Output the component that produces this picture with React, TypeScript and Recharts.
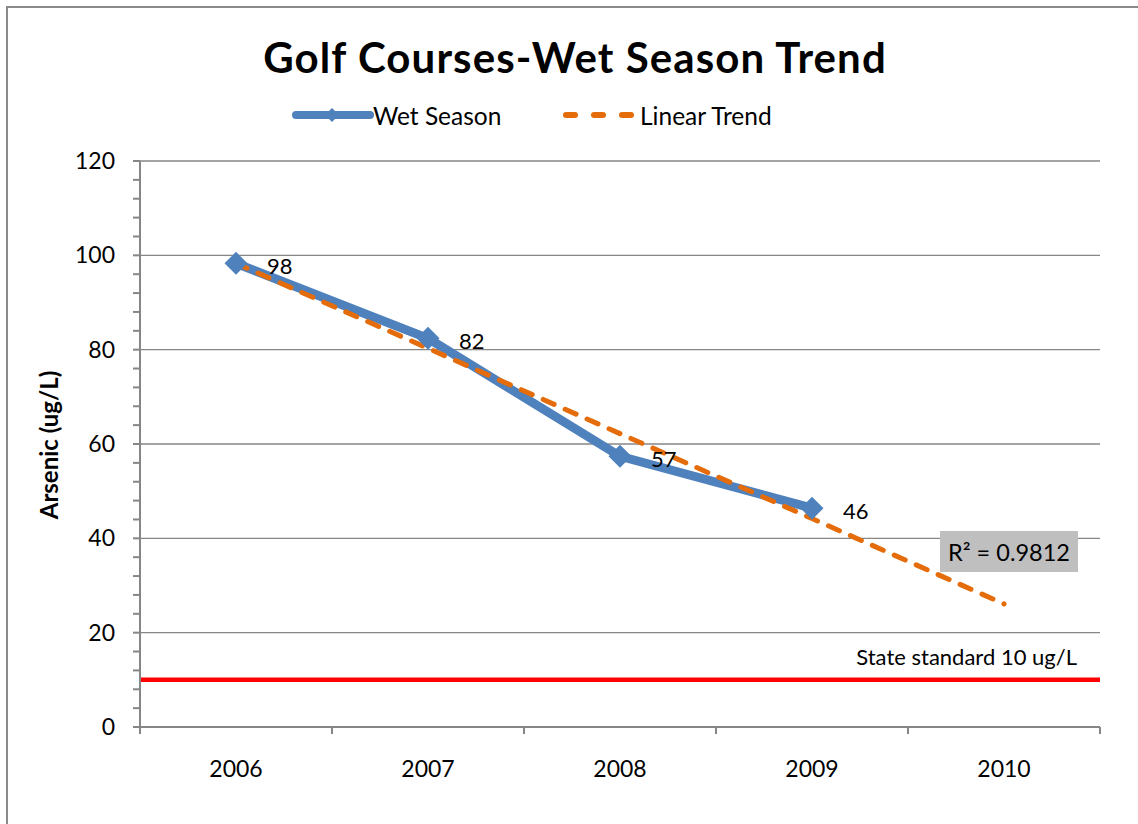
import React from "react";
import {
  LineChart,
  Line,
  XAxis,
  YAxis,
  CartesianGrid,
  ReferenceLine,
  LabelList,
  Legend,
  Customized,
} from "recharts";

const YEARS = ["2006", "2007", "2008", "2009", "2010"];
const WET_SEASON = [98.3, 82.4, 57.4, 46.4];
const LINEAR_TREND = [98.3, 80.3, 62.2, 44.2, 26.1];
const Y_LABELS = [0, 20, 40, 60, 80, 100, 120];
const STATE_STANDARD = 10;
const R_SQUARED = "R\u00b2 = 0.9812";

const FONT = "Lato, 'Open Sans', sans-serif";
const BLUE = "#4f81bd";
const ORANGE = "#e46c0a";
const GRAY = "#868686";

// x position = middle of each year's slot, so ticks can sit on slot edges
const chartData = YEARS.map((year, i) => ({
  pos: i + 0.5,
  year,
  wet: WET_SEASON[i],
  trend: LINEAR_TREND[i],
}));
const yTicks = Array.from({ length: 31 }, (_, i) => i * 4);
const xTicks = Array.from({ length: YEARS.length * 2 + 1 }, (_, i) => i / 2);

function YearTick(props: any) {
  const { x, y, payload } = props;
  const v = payload.value as number;
  if (Number.isInteger(v)) {
    return <line x1={x} x2={x} y1={y} y2={y + 7} stroke={GRAY} strokeWidth={2} />;
  }
  return (
    <text x={x} y={y + 50} textAnchor="middle" fontSize={23} fontFamily={FONT} fill="#000">
      {YEARS[Math.floor(v)]}
    </text>
  );
}

function Diamond(props: any) {
  const { cx, cy, index, value } = props;
  if (value == null || cx == null || cy == null) return <g key={index} />;
  const r = 11.5;
  return (
    <polygon
      key={index}
      points={`${cx},${cy - r} ${cx + r},${cy} ${cx},${cy + r} ${cx - r},${cy}`}
      fill={BLUE}
    />
  );
}

function ValueLabel(props: any) {
  const { x, y, value } = props;
  if (value == null) return null;
  return (
    <text x={x + 31} y={y + 2} dominantBaseline="central" fontSize={22} fontFamily={FONT} fill="#000">
      {Math.round(value)}
    </text>
  );
}

function AxisTitle() {
  return (
    <text
      transform="translate(40,437) rotate(-90)"
      textAnchor="middle"
      dominantBaseline="central"
      fontSize={24}
      fontWeight={700}
      fontFamily={FONT}
      fill="#000"
    >
      Arsenic (ug/L)
    </text>
  );
}

function StandardLabel(props: any) {
  const { viewBox } = props;
  return (
    <text
      x={viewBox.x + viewBox.width - 23}
      y={viewBox.y - 15}
      textAnchor="end"
      fontSize={22}
      fontFamily={FONT}
      fill="#000"
    >
      State standard 10 ug/L
    </text>
  );
}

function Annotations() {
  return (
    <g>
      <text
        x={567}
        y={65}
        textAnchor="middle"
        fontSize={42}
        fontWeight={700}
        letterSpacing={1.1}
        fontFamily={FONT}
        fill="#000"
      >
        Golf Courses-Wet Season Trend
      </text>
      <rect x={932} y={523} width={138} height={41} fill="#bfbfbf" />
      <text x={1001} y={544} textAnchor="middle" dominantBaseline="central" fontSize={23.5} fontFamily={FONT} fill="#000">
        {R_SQUARED}
      </text>
    </g>
  );
}

const renderLegend = () => (
  <svg width={520} height={30} style={{ display: "block" }}>
    <line x1={6} x2={80} y1={15} y2={15} stroke={BLUE} strokeWidth={8} strokeLinecap="round" />
    <polygon points="42,8 49,15 42,22 35,15" fill={BLUE} />
    <text x={83} y={15} dominantBaseline="central" fontSize={24.5} fontFamily={FONT} fill="#000">
      Wet Season
    </text>
    <line
      x1={276}
      x2={344}
      y1={15}
      y2={15}
      stroke={ORANGE}
      strokeWidth={6}
      strokeDasharray="9 19"
      strokeLinecap="round"
    />
    <text x={350} y={15} dominantBaseline="central" fontSize={24.5} fontFamily={FONT} fill="#000">
      Linear Trend
    </text>
  </svg>
);

export default function App() {
  return (
    <div style={{ position: "relative", width: 1130, height: 816, fontFamily: FONT }}>
      <LineChart
        width={1130}
        height={816}
        data={chartData}
        margin={{ top: 153, right: 38, bottom: 0, left: 0 }}
      >
        <CartesianGrid vertical={false} horizontalValues={Y_LABELS} stroke={GRAY} strokeWidth={1.3} />
        <XAxis
          dataKey="pos"
          type="number"
          domain={[0, YEARS.length]}
          ticks={xTicks}
          interval={0}
          height={97}
          tickLine={false}
          tickSize={0}
          tickMargin={0}
          axisLine={{ stroke: GRAY, strokeWidth: 2 }}
          tick={<YearTick />}
        />
        <YAxis
          width={132}
          domain={[0, 120]}
          ticks={yTicks}
          interval={0}
          tickSize={7}
          tickMargin={18}
          tickFormatter={(v: number) => (v % 20 === 0 ? String(v) : "")}
          tick={{ fontSize: 23, fontFamily: FONT, fill: "#000" }}
          tickLine={{ stroke: GRAY, strokeWidth: 2 }}
          axisLine={{ stroke: GRAY, strokeWidth: 2 }}
          label={<AxisTitle />}
        />
        <ReferenceLine
          y={STATE_STANDARD}
          stroke="#ff0000"
          strokeWidth={4.5}
          label={<StandardLabel />}
        />
        <Legend
          verticalAlign="middle"
          align="center"
          layout="horizontal"
          content={renderLegend}
          wrapperStyle={{ top: 92, left: 282, width: 520 }}
        />
        <Line
          dataKey="wet"
          name="Wet Season"
          stroke={BLUE}
          strokeWidth={9}
          strokeLinejoin="round"
          dot={Diamond}
          activeDot={false}
          isAnimationActive={false}
        >
          <LabelList dataKey="wet" content={<ValueLabel />} />
        </Line>
        <Line
          dataKey="trend"
          name="Linear Trend"
          stroke={ORANGE}
          strokeWidth={5}
          strokeDasharray="12 12"
          strokeLinecap="round"
          dot={false}
          activeDot={false}
          isAnimationActive={false}
        />
        <Customized component={Annotations} />
      </LineChart>
      {/* chart frame, cut off at the right and bottom like the original */}
      <div
        style={{
          position: "fixed",
          left: 6,
          top: 6,
          width: 1150,
          height: 840,
          borderLeft: "2px solid #8a8a8a",
          borderTop: "2px solid #8a8a8a",
          pointerEvents: "none",
          zIndex: 10,
        }}
      />
    </div>
  );
}
